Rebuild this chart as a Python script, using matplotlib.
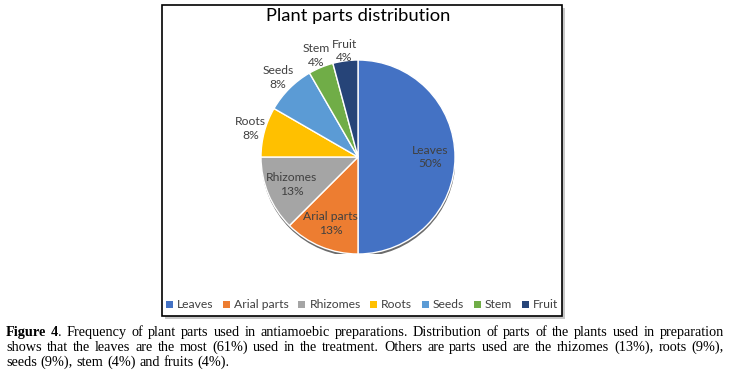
import math
import matplotlib
matplotlib.use('Agg')
import matplotlib.pyplot as plt
from matplotlib.patches import Rectangle, Circle

# ---------------- data ----------------
categories = ['Leaves', 'Arial parts', 'Rhizomes', 'Roots', 'Seeds', 'Stem', 'Fruit']
counts = [12, 3, 3, 2, 2, 1, 1]
colors = ['#4472C4', '#ED7D31', '#A5A5A5', '#FFC000', '#5B9BD5', '#70AD47', '#264478']
title = 'Plant parts distribution'
caption_lines = [
    [[('Figure', 'bold')], [('4', 'bold'), ('.', 'normal')]] +
    [[(w, 'normal')] for w in 'Frequency of plant parts used in antiamoebic preparations. Distribution of parts of the plants used in preparation'.split()],
    [[(w, 'normal')] for w in 'shows that the leaves are the most (61%) used in the treatment. Others are parts used are the rhizomes (13%), roots (9%),'.split()],
    [[(w, 'normal')] for w in 'seeds (9%), stem (4%) and fruits (4%).'.split()],
]

W, H = 730, 376
fig = plt.figure(figsize=(W / 100, H / 100), dpi=100)
fig.patch.set_facecolor('white')
renderer = fig.canvas.get_renderer()


def fx(px):
    return px / W


def fy(py):
    return 1 - py / H


sans = ['Lato', 'DejaVu Sans']
txt_color = '#404040'
lab_size = 8.75

# chart frame with shadow
bx0, by0, bx1, by1 = 162, 5, 562, 316
fig.patches.append(Rectangle((fx(bx0 + 3), fy(by1 + 3)), (bx1 - bx0) / W, (by1 - by0) / H,
                             transform=fig.transFigure, facecolor='#c8c8c8', edgecolor='none', zorder=0))
fig.patches.append(Rectangle((fx(bx0), fy(by1)), (bx1 - bx0) / W, (by1 - by0) / H,
                             transform=fig.transFigure, facecolor='white', edgecolor='black', lw=1.2, zorder=1))

# pie
cx, cy, R = 358, 157, 97
ax = fig.add_axes([fx(cx - R), fy(cy + R), 2 * R / W, 2 * R / H])
ax.set_zorder(2)
ax.patch.set_visible(False)
ax.add_patch(Circle((0.004, -0.028), 1.0, facecolor='#3a3a3a', edgecolor='none', alpha=0.75, zorder=0))
wedges, _ = ax.pie(counts, colors=colors, startangle=90, counterclock=False,
                   wedgeprops=dict(edgecolor='white', linewidth=1.0, zorder=1), radius=1)
ax.set_xlim(-1, 1)
ax.set_ylim(-1, 1)
ax.set_aspect('equal')
ax.axis('off')

total = sum(counts)
for w, cat, c in zip(wedges, categories, counts):
    frac = c / total
    pct = math.floor(frac * 100 + 0.5)
    mid = math.radians((w.theta1 + w.theta2) / 2)
    ux, uy = math.cos(mid), math.sin(mid)
    t = ax.text(0, 0, f'{cat}\n{pct}%', ha='center', va='center',
                fontsize=lab_size, color=txt_color, family=sans, linespacing=1.3, zorder=3)
    if frac > 0.1:
        d = 0.74
    else:
        bb = t.get_window_extent(renderer)
        hw, hh = bb.width / 2 / R, bb.height / 2 / R
        d = 1.0 + abs(ux) * hw + abs(uy) * hh - 0.04
    t.set_position((d * ux, d * uy))

# title
fig.text(fx(358), fy(16), title, ha='center', va='center', fontsize=13.2, color='black', family=sans, zorder=3)

# legend
leg = fig.legend(wedges, categories, loc='center', bbox_to_anchor=(fx(362), fy(305)), ncol=7,
                 frameon=False, handlelength=0.55, handleheight=0.55, handletextpad=0.35,
                 columnspacing=0.8, borderaxespad=0, prop={'family': sans, 'size': lab_size})
for t in leg.get_texts():
    t.set_color(txt_color)
for h in leg.legend_handles:
    h.set_edgecolor('none')

# caption (justified)
cap_size = 10.3
serif = 'Liberation Serif'


def seg_width(s, wt):
    t = fig.text(0, 0, s, fontsize=cap_size, family=serif, weight=wt)
    wdt = t.get_window_extent(renderer).width
    t.remove()
    return wdt


space_w = seg_width('a a', 'normal') - seg_width('aa', 'normal')
x0, x1 = 6, 724
baselines = [336, 351, 366]
for i, (words, yb) in enumerate(zip(caption_lines, baselines)):
    widths = [sum(seg_width(s, wt) for s, wt in word) for word in words]
    justify = i < len(caption_lines) - 1
    gap = (x1 - x0 - sum(widths)) / (len(words) - 1) if justify else space_w
    x = x0
    for word, wd in zip(words, widths):
        xx = x
        for s, wt in word:
            fig.text(fx(xx), fy(yb), s, fontsize=cap_size, family=serif, weight=wt,
                     ha='left', va='baseline', color='black')
            xx += seg_width(s, wt)
        x += wd + gap

fig.savefig('out.png', dpi=100)
